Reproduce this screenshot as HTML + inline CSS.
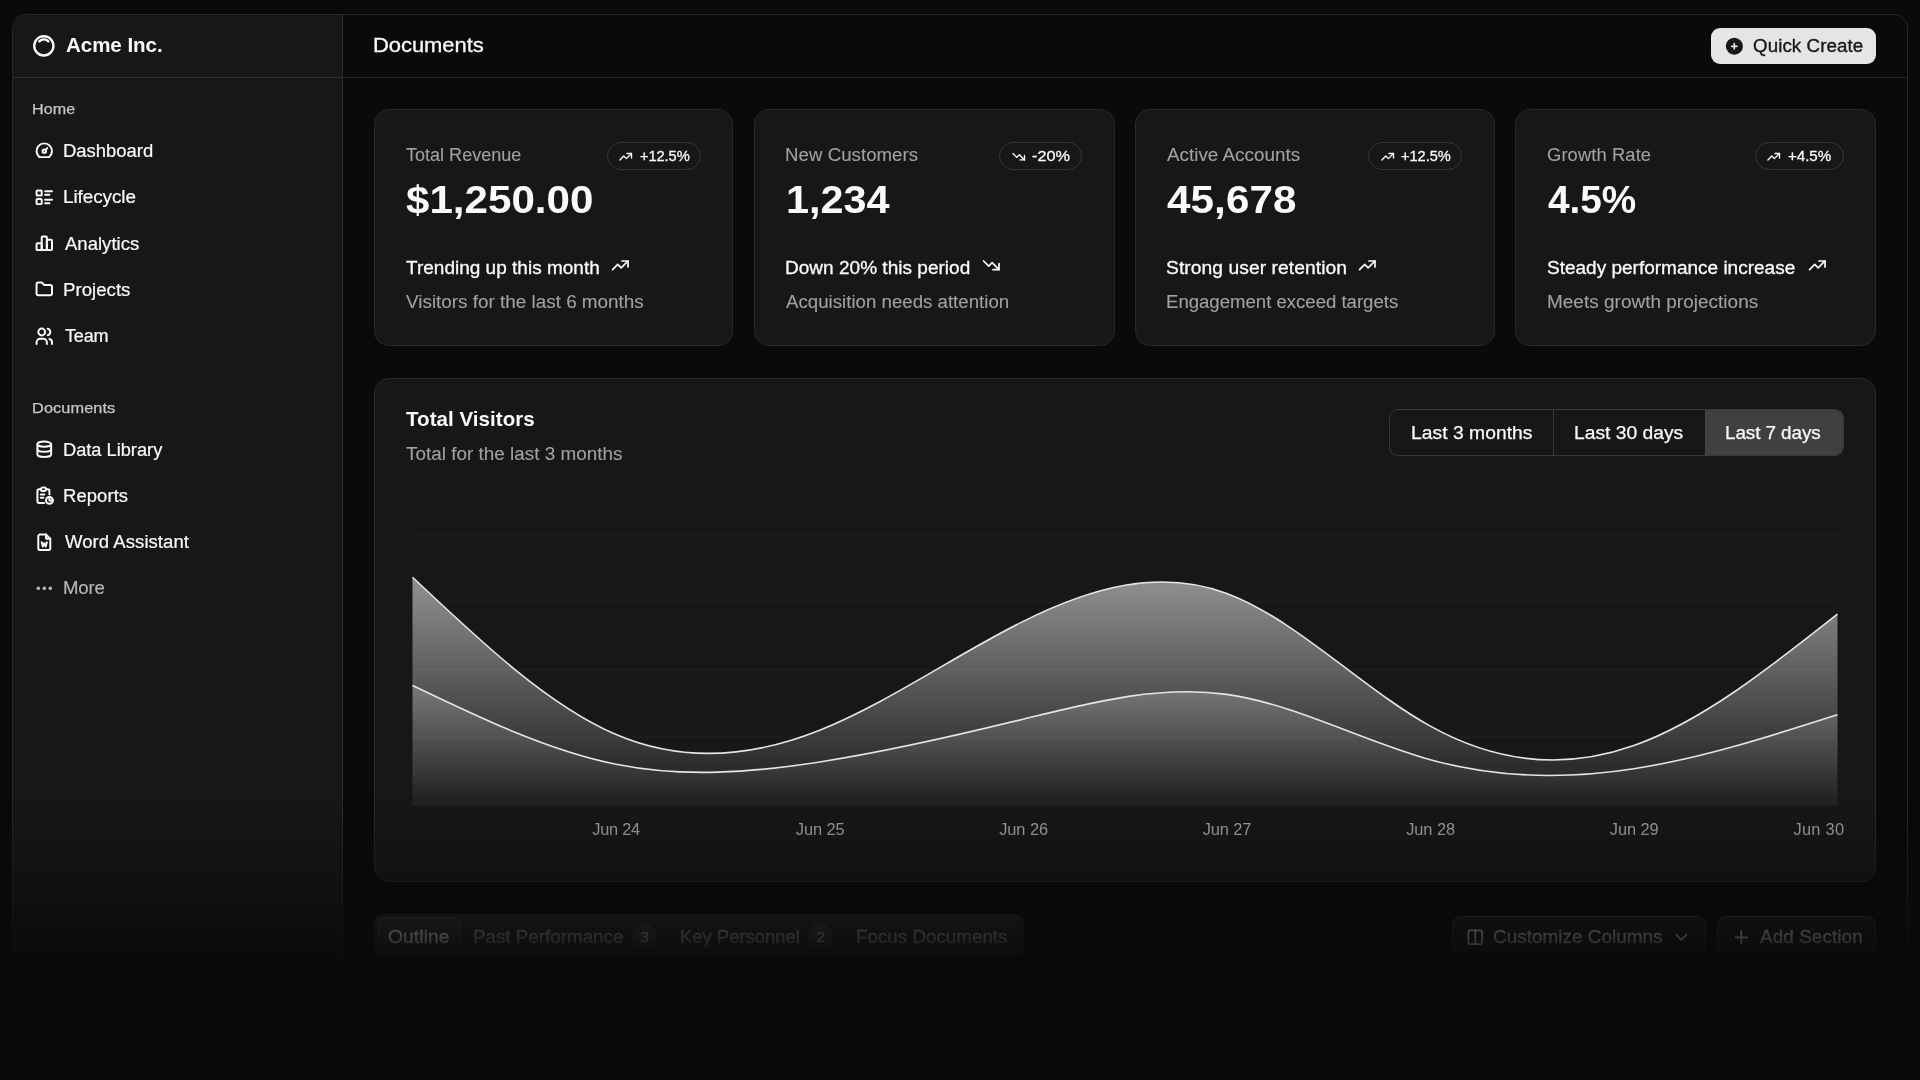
<!DOCTYPE html>
<html lang="en"><head><meta charset="utf-8"><title>Acme Inc. - Documents</title>
<style>
html,body{margin:0;padding:0}
body{width:1920px;height:1080px;overflow:hidden;background:#0a0a0a;position:relative;font-family:"Liberation Sans", sans-serif;-webkit-font-smoothing:antialiased}
.t{position:absolute;white-space:nowrap;line-height:1;display:block;transform-origin:0 0}
.ic{position:absolute;display:block;overflow:visible}
.b{position:absolute;box-sizing:border-box}
.card{position:absolute;box-sizing:border-box;background:#171717;border:1.29px solid #292929;border-radius:15px}
.badge{position:absolute;box-sizing:border-box;border:1px solid #363636;border-radius:14px}
</style></head><body>

<div class="b" style="left:12px;top:14px;width:1896px;height:1000px;border:1px solid #272727;border-radius:14px;background:#0a0a0a"></div>
<div class="b" style="left:13px;top:15px;width:329.8px;height:999px;background:#171717;border-right:1.29px solid #2c2c2c;border-top-left-radius:13px"></div>
<div class="b" style="left:13px;top:76.9px;width:328.6px;height:1.29px;background:#2e2e2e"></div>
<div class="b" style="left:342.8px;top:76.9px;width:1564.2px;height:1.29px;background:#252525"></div>
<svg id="i_logo" class="ic" style="left:30.85px;top:33.15px" width="25.70" height="25.70" viewBox="0 0 24 24" fill="none" stroke="#fafafa" stroke-width="2.2" stroke-linecap="round" stroke-linejoin="round"><path d="M5.636 5.636a9 9 0 1 0 12.728 12.728a9 9 0 0 0 -12.728 -12.728z"/><path d="M16.243 7.757a6 6 0 0 0 -8.486 0"/></svg>
<svg id="i_nav0" class="ic" style="left:33.72px;top:140.31px" width="20.57" height="20.57" viewBox="0 0 24 24" fill="none" stroke="#fafafa" stroke-width="2.3" stroke-linecap="round" stroke-linejoin="round"><path d="M12 13m-2 0a2 2 0 1 0 4 0a2 2 0 1 0 -4 0"/><path d="M13.45 11.55l2.05 -2.05"/><path d="M6.4 20a9 9 0 1 1 11.2 0z"/></svg>
<svg id="i_nav1" class="ic" style="left:33.72px;top:186.61px" width="20.57" height="20.57" viewBox="0 0 24 24" fill="none" stroke="#fafafa" stroke-width="2.3" stroke-linecap="round" stroke-linejoin="round"><path d="M13 5h8"/><path d="M13 9h5"/><path d="M13 15h8"/><path d="M13 19h5"/><path d="M3 4m0 1a1 1 0 0 1 1 -1h4a1 1 0 0 1 1 1v4a1 1 0 0 1 -1 1h-4a1 1 0 0 1 -1 -1z"/><path d="M3 14m0 1a1 1 0 0 1 1 -1h4a1 1 0 0 1 1 1v4a1 1 0 0 1 -1 1h-4a1 1 0 0 1 -1 -1z"/></svg>
<svg id="i_nav2" class="ic" style="left:33.72px;top:232.91px" width="20.57" height="20.57" viewBox="0 0 24 24" fill="none" stroke="#fafafa" stroke-width="2.3" stroke-linecap="round" stroke-linejoin="round"><path d="M3 13a1 1 0 0 1 1 -1h4a1 1 0 0 1 1 1v6a1 1 0 0 1 -1 1h-4a1 1 0 0 1 -1 -1z"/><path d="M15 9a1 1 0 0 1 1 -1h4a1 1 0 0 1 1 1v10a1 1 0 0 1 -1 1h-4a1 1 0 0 1 -1 -1z"/><path d="M9 5a1 1 0 0 1 1 -1h4a1 1 0 0 1 1 1v14a1 1 0 0 1 -1 1h-4a1 1 0 0 1 -1 -1z"/><path d="M4 20h14"/></svg>
<svg id="i_nav3" class="ic" style="left:33.72px;top:279.21px" width="20.57" height="20.57" viewBox="0 0 24 24" fill="none" stroke="#fafafa" stroke-width="2.3" stroke-linecap="round" stroke-linejoin="round"><path d="M5 4h4l3 3h7a2 2 0 0 1 2 2v8a2 2 0 0 1 -2 2h-14a2 2 0 0 1 -2 -2v-11a2 2 0 0 1 2 -2"/></svg>
<svg id="i_nav4" class="ic" style="left:33.72px;top:325.51px" width="20.57" height="20.57" viewBox="0 0 24 24" fill="none" stroke="#fafafa" stroke-width="2.3" stroke-linecap="round" stroke-linejoin="round"><path d="M9 7m-4 0a4 4 0 1 0 8 0a4 4 0 1 0 -8 0"/><path d="M3 21v-2a4 4 0 0 1 4 -4h4a4 4 0 0 1 4 4v2"/><path d="M16 3.13a4 4 0 0 1 0 7.75"/><path d="M21 21v-2a4 4 0 0 0 -3 -3.85"/></svg>
<svg id="i_doc0" class="ic" style="left:33.72px;top:439.01px" width="20.57" height="20.57" viewBox="0 0 24 24" fill="none" stroke="#fafafa" stroke-width="2.3" stroke-linecap="round" stroke-linejoin="round"><path d="M12 6m-8 0a8 3 0 1 0 16 0a8 3 0 1 0 -16 0"/><path d="M4 6v6a8 3 0 0 0 16 0v-6"/><path d="M4 12v6a8 3 0 0 0 16 0v-6"/></svg>
<svg id="i_doc1" class="ic" style="left:33.72px;top:485.31px" width="20.57" height="20.57" viewBox="0 0 24 24" fill="none" stroke="#fafafa" stroke-width="2.3" stroke-linecap="round" stroke-linejoin="round"><path d="M8 5h-2a2 2 0 0 0 -2 2v12a2 2 0 0 0 2 2h5.697"/><path d="M18 14v4h4"/><path d="M18 11v-4a2 2 0 0 0 -2 -2h-2"/><path d="M8 3m0 2a2 2 0 0 1 2 -2h2a2 2 0 0 1 2 2v0a2 2 0 0 1 -2 2h-2a2 2 0 0 1 -2 -2z"/><path d="M18 18m-4 0a4 4 0 1 0 8 0a4 4 0 1 0 -8 0"/><path d="M8 11h4"/><path d="M8 15h3"/></svg>
<svg id="i_doc2" class="ic" style="left:33.72px;top:531.62px" width="20.57" height="20.57" viewBox="0 0 24 24" fill="none" stroke="#fafafa" stroke-width="2.3" stroke-linecap="round" stroke-linejoin="round"><path d="M14 3v4a1 1 0 0 0 1 1h4"/><path d="M17 21h-10a2 2 0 0 1 -2 -2v-14a2 2 0 0 1 2 -2h7l5 5v11a2 2 0 0 1 -2 2z"/><path d="M9 12l1.333 5l1.667 -4l1.667 4l1.333 -5"/></svg>
<svg id="i_doc3" class="ic" style="left:33.72px;top:577.92px" width="20.57" height="20.57" viewBox="0 0 24 24" fill="none" stroke="#b4b4b4" stroke-width="2.3" stroke-linecap="round" stroke-linejoin="round"><path d="M5 12m-1 0a1 1 0 1 0 2 0a1 1 0 1 0 -2 0"/><path d="M12 12m-1 0a1 1 0 1 0 2 0a1 1 0 1 0 -2 0"/><path d="M19 12m-1 0a1 1 0 1 0 2 0a1 1 0 1 0 -2 0"/></svg>
<div class="b" style="left:1711.2px;top:28px;width:165.3px;height:36px;background:#e5e5e5;border-radius:9px"></div>
<svg class="ic" id="i_qc" style="left:1724.31px;top:35.72px" width="20.57" height="20.57" viewBox="0 0 24 24"><path fill="#171717" fill-rule="evenodd" d="M4.929 4.929a10 10 0 1 1 14.141 14.141a10 10 0 0 1 -14.14 -14.14zm8.071 4.071a1 1 0 1 0 -2 0v2h-2a1 1 0 1 0 0 2h2v2a1 1 0 1 0 2 0v-2h2a1 1 0 1 0 0 -2h-2v-2z"/></svg>
<div class="card" style="left:373.60px;top:109.2px;width:359.45px;height:237px"></div>
<div class="badge" style="left:607.00px;top:141.5px;width:93.80px;height:28.2px"></div>
<svg id="i_cb0" class="ic" style="left:618.30px;top:148.70px" width="15.43" height="15.43" viewBox="0 0 24 24" fill="none" stroke="#fafafa" stroke-width="2.1" stroke-linecap="round" stroke-linejoin="round"><path d="M3 17l6 -6l4 4l8 -8"/><path d="M14 7l7 0l0 7"/></svg>
<svg id="i_cf0" class="ic" style="left:609.60px;top:254.90px" width="20.57" height="20.57" viewBox="0 0 24 24" fill="none" stroke="#fafafa" stroke-width="2" stroke-linecap="round" stroke-linejoin="round"><path d="M3 17l6 -6l4 4l8 -8"/><path d="M14 7l7 0l0 7"/></svg>
<div class="card" style="left:753.75px;top:109.2px;width:361.10px;height:237px"></div>
<div class="badge" style="left:998.75px;top:141.5px;width:83.00px;height:28.2px"></div>
<svg id="i_cb1" class="ic" style="left:1010.50px;top:148.70px" width="15.43" height="15.43" viewBox="0 0 24 24" fill="none" stroke="#fafafa" stroke-width="2.1" stroke-linecap="round" stroke-linejoin="round"><path d="M3 7l6 6l4 -4l8 8"/><path d="M21 10l0 7l-7 0"/></svg>
<svg id="i_cf1" class="ic" style="left:980.60px;top:254.90px" width="20.57" height="20.57" viewBox="0 0 24 24" fill="none" stroke="#fafafa" stroke-width="2" stroke-linecap="round" stroke-linejoin="round"><path d="M3 7l6 6l4 -4l8 8"/><path d="M21 10l0 7l-7 0"/></svg>
<div class="card" style="left:1134.86px;top:109.2px;width:360.14px;height:237px"></div>
<div class="badge" style="left:1368.25px;top:141.5px;width:93.75px;height:28.2px"></div>
<svg id="i_cb2" class="ic" style="left:1380.00px;top:148.70px" width="15.43" height="15.43" viewBox="0 0 24 24" fill="none" stroke="#fafafa" stroke-width="2.1" stroke-linecap="round" stroke-linejoin="round"><path d="M3 17l6 -6l4 4l8 -8"/><path d="M14 7l7 0l0 7"/></svg>
<svg id="i_cf2" class="ic" style="left:1357.20px;top:254.90px" width="20.57" height="20.57" viewBox="0 0 24 24" fill="none" stroke="#fafafa" stroke-width="2" stroke-linecap="round" stroke-linejoin="round"><path d="M3 17l6 -6l4 4l8 -8"/><path d="M14 7l7 0l0 7"/></svg>
<div class="card" style="left:1515.00px;top:109.2px;width:361.00px;height:237px"></div>
<div class="badge" style="left:1755.00px;top:141.5px;width:88.75px;height:28.2px"></div>
<svg id="i_cb3" class="ic" style="left:1766.40px;top:148.70px" width="15.43" height="15.43" viewBox="0 0 24 24" fill="none" stroke="#fafafa" stroke-width="2.1" stroke-linecap="round" stroke-linejoin="round"><path d="M3 17l6 -6l4 4l8 -8"/><path d="M14 7l7 0l0 7"/></svg>
<svg id="i_cf3" class="ic" style="left:1807.00px;top:254.90px" width="20.57" height="20.57" viewBox="0 0 24 24" fill="none" stroke="#fafafa" stroke-width="2" stroke-linecap="round" stroke-linejoin="round"><path d="M3 17l6 -6l4 4l8 -8"/><path d="M14 7l7 0l0 7"/></svg>
<div class="card" style="left:373.6px;top:377.6px;width:1502.4px;height:504.2px"></div>
<div class="b" style="left:1389px;top:409px;width:455.2px;height:47px;border:1px solid #383838;border-radius:9px;overflow:hidden"><div class="b" style="left:163.2px;top:0;width:1px;height:45px;background:#383838"></div><div class="b" style="left:315px;top:0;width:139.2px;height:45px;background:#404040;border-left:1px solid #454545"></div></div>
<svg class="ic" style="left:0;top:0" width="1920" height="1080" viewBox="0 0 1920 1080"><defs><linearGradient id="gd" x1="0" y1="0" x2="0" y2="1"><stop offset="5%" stop-color="#e5e5e5" stop-opacity="1"/><stop offset="95%" stop-color="#e5e5e5" stop-opacity="0.18"/></linearGradient><linearGradient id="gm" x1="0" y1="0" x2="0" y2="1"><stop offset="5%" stop-color="#e5e5e5" stop-opacity="0.8"/><stop offset="95%" stop-color="#e5e5e5" stop-opacity="0.1"/></linearGradient></defs><line x1="412.5" x2="1837.5" y1="534.40" y2="534.40" stroke="#ffffff" stroke-opacity="0.04" stroke-width="1.2"/><line x1="412.5" x2="1837.5" y1="602.00" y2="602.00" stroke="#ffffff" stroke-opacity="0.04" stroke-width="1.2"/><line x1="412.5" x2="1837.5" y1="669.60" y2="669.60" stroke="#ffffff" stroke-opacity="0.04" stroke-width="1.2"/><line x1="412.5" x2="1837.5" y1="737.20" y2="737.20" stroke="#ffffff" stroke-opacity="0.04" stroke-width="1.2"/><line x1="412.5" x2="1837.5" y1="804.80" y2="804.80" stroke="#ffffff" stroke-opacity="0.04" stroke-width="1.2"/><path d="M412.50,685.37C480.36,717.99,548.21,750.62,616.07,764.24C683.93,777.86,751.79,772.49,819.64,761.99C887.50,751.48,955.36,735.85,1023.21,719.17C1091.07,702.50,1158.93,684.78,1226.79,694.39C1294.64,703.99,1362.50,740.91,1430.36,759.73C1498.21,778.55,1566.07,779.27,1633.93,768.75C1701.79,758.22,1769.64,736.44,1837.50,714.67L1837.50,804.80 L412.50,804.80 Z" fill="url(#gm)" fill-opacity="0.57" stroke="none"/><path d="M412.50,685.37C480.36,717.99,548.21,750.62,616.07,764.24C683.93,777.86,751.79,772.49,819.64,761.99C887.50,751.48,955.36,735.85,1023.21,719.17C1091.07,702.50,1158.93,684.78,1226.79,694.39C1294.64,703.99,1362.50,740.91,1430.36,759.73C1498.21,778.55,1566.07,779.27,1633.93,768.75C1701.79,758.22,1769.64,736.44,1837.50,714.67" fill="none" stroke="#e5e5e5" stroke-width="1.6"/><path d="M412.50,577.21C480.36,641.36,548.21,705.51,616.07,734.50C683.93,763.48,751.79,757.31,819.64,730.21C887.50,703.12,955.36,655.10,1023.21,621.38C1091.07,587.66,1158.93,568.25,1226.79,593.44C1294.64,618.63,1362.50,688.43,1430.36,726.16C1498.21,763.89,1566.07,769.55,1633.93,745.54C1701.79,721.53,1769.64,667.85,1837.50,614.17L1837.50,714.67C1769.64,736.44,1701.79,758.22,1633.93,768.75C1566.07,779.27,1498.21,778.55,1430.36,759.73C1362.50,740.91,1294.64,703.99,1226.79,694.39C1158.93,684.78,1091.07,702.50,1023.21,719.17C955.36,735.85,887.50,751.48,819.64,761.99C751.79,772.49,683.93,777.86,616.07,764.24C548.21,750.62,480.36,717.99,412.50,685.37Z" fill="url(#gd)" fill-opacity="0.57" stroke="none"/><path d="M412.50,577.21C480.36,641.36,548.21,705.51,616.07,734.50C683.93,763.48,751.79,757.31,819.64,730.21C887.50,703.12,955.36,655.10,1023.21,621.38C1091.07,587.66,1158.93,568.25,1226.79,593.44C1294.64,618.63,1362.50,688.43,1430.36,726.16C1498.21,763.89,1566.07,769.55,1633.93,745.54C1701.79,721.53,1769.64,667.85,1837.50,614.17" fill="none" stroke="#e5e5e5" stroke-width="1.6"/></svg>
<div class="b" style="left:374px;top:914px;width:649.6px;height:44px;background:#262626;border-radius:10px"></div>
<div class="b" style="left:377.7px;top:917.2px;width:83.1px;height:37.5px;background:#303030;border:1px solid #454545;border-radius:8px"></div>
<div class="b" style="left:632.2px;top:924.2px;width:24.6px;height:24.6px;background:#3a3a3a;border-radius:50%"></div>
<div class="b" style="left:808.2px;top:924.2px;width:24.6px;height:24.6px;background:#3a3a3a;border-radius:50%"></div>
<div class="b" style="left:1451.5px;top:916px;width:254.5px;height:40px;background:#1c1c1c;border:1px solid #383838;border-radius:9px"></div>
<div class="b" style="left:1717px;top:916px;width:159px;height:40px;background:#1c1c1c;border:1px solid #383838;border-radius:9px"></div>
<svg  class="ic" style="left:1464.91px;top:926.51px" width="20.57" height="20.57" viewBox="0 0 24 24" fill="none" stroke="#fafafa" stroke-width="2" stroke-linecap="round" stroke-linejoin="round"><path d="M4 4m0 2a2 2 0 0 1 2 -2h12a2 2 0 0 1 2 2v12a2 2 0 0 1 -2 2h-12a2 2 0 0 1 -2 -2z"/><path d="M12 4l0 16"/></svg>
<svg  class="ic" style="left:1671.31px;top:926.51px" width="20.57" height="20.57" viewBox="0 0 24 24" fill="none" stroke="#fafafa" stroke-width="2" stroke-linecap="round" stroke-linejoin="round"><path d="M6 9l6 6l6 -6"/></svg>
<svg  class="ic" style="left:1730.91px;top:926.72px" width="20.57" height="20.57" viewBox="0 0 24 24" fill="none" stroke="#fafafa" stroke-width="2" stroke-linecap="round" stroke-linejoin="round"><path d="M12 5l0 14"/><path d="M5 12l14 0"/></svg>
<div id="txt" style="position:absolute;left:0;top:0;width:1920px;height:1080px;will-change:transform">
<span id="acme" class="t" style="left:66.28px;top:35.09px;font-size:20.57px;font-weight:700;color:#fafafa;letter-spacing:-0.051px;transform:scaleX(0.9989);">Acme Inc.</span>
<span id="home" class="t" style="left:32.20px;top:101.44px;font-size:15.43px;font-weight:400;color:#c6c6c6;letter-spacing:0.080px;transform:scaleX(1.0437);-webkit-text-stroke:0.25px #c6c6c6;">Home</span>
<span id="nav0" class="t" style="left:63.26px;top:141.96px;font-size:18.00px;font-weight:400;color:#fafafa;letter-spacing:-0.006px;transform:scaleX(1.0256);-webkit-text-stroke:0.20px #fafafa;">Dashboard</span>
<span id="nav1" class="t" style="left:63.26px;top:188.26px;font-size:18.00px;font-weight:400;color:#fafafa;letter-spacing:-0.055px;transform:scaleX(1.0485);-webkit-text-stroke:0.20px #fafafa;">Lifecycle</span>
<span id="nav2" class="t" style="left:64.86px;top:234.56px;font-size:18.00px;font-weight:400;color:#fafafa;letter-spacing:-0.003px;transform:scaleX(1.0306);-webkit-text-stroke:0.20px #fafafa;">Analytics</span>
<span id="nav3" class="t" style="left:63.26px;top:280.86px;font-size:18.00px;font-weight:400;color:#fafafa;letter-spacing:-0.003px;transform:scaleX(1.0375);-webkit-text-stroke:0.20px #fafafa;">Projects</span>
<span id="nav4" class="t" style="left:64.86px;top:327.16px;font-size:18.00px;font-weight:400;color:#fafafa;letter-spacing:-0.168px;transform:scaleX(1.0023);-webkit-text-stroke:0.20px #fafafa;">Team</span>
<span id="docs" class="t" style="left:32.34px;top:400.24px;font-size:15.43px;font-weight:400;color:#c6c6c6;letter-spacing:0.060px;transform:scaleX(1.0610);-webkit-text-stroke:0.25px #c6c6c6;">Documents</span>
<span id="doc0" class="t" style="left:63.26px;top:440.56px;font-size:18.00px;font-weight:400;color:#fafafa;letter-spacing:-0.000px;transform:scaleX(1.0124);-webkit-text-stroke:0.20px #fafafa;">Data Library</span>
<span id="doc1" class="t" style="left:63.26px;top:486.86px;font-size:18.00px;font-weight:400;color:#fafafa;letter-spacing:0.081px;transform:scaleX(1.0242);-webkit-text-stroke:0.20px #fafafa;">Reports</span>
<span id="doc2" class="t" style="left:64.86px;top:533.16px;font-size:18.00px;font-weight:400;color:#fafafa;letter-spacing:0.040px;transform:scaleX(1.0308);-webkit-text-stroke:0.20px #fafafa;">Word Assistant</span>
<span id="doc3" class="t" style="left:63.26px;top:579.46px;font-size:18.00px;font-weight:400;color:#b4b4b4;letter-spacing:-0.160px;transform:scaleX(1.0333);-webkit-text-stroke:0.20px #b4b4b4;">More</span>
<span id="hdr" class="t" style="left:372.70px;top:35.09px;font-size:20.57px;font-weight:400;color:#fafafa;letter-spacing:-0.060px;transform:scaleX(1.0700);-webkit-text-stroke:0.30px #fafafa;">Documents</span>
<span id="qc" class="t" style="left:1752.78px;top:37.26px;font-size:18.00px;font-weight:400;color:#171717;letter-spacing:0.081px;transform:scaleX(1.0400);-webkit-text-stroke:0.35px #171717;">Quick Create</span>
<span id="ct0" class="t" style="left:405.64px;top:145.56px;font-size:18.00px;font-weight:400;color:#a1a1a1;letter-spacing:0.003px;transform:scaleX(1.0018);-webkit-text-stroke:0.10px #a1a1a1;">Total Revenue</span>
<span id="cb0" class="t" style="left:639.86px;top:147.84px;font-size:15.43px;font-weight:400;color:#fafafa;letter-spacing:-0.105px;transform:scaleX(0.9519);-webkit-text-stroke:0.30px #fafafa;">+12.5%</span>
<span id="cv0" class="t" style="left:405.98px;top:180.45px;font-size:39.40px;font-weight:700;color:#fafafa;letter-spacing:0.000px;transform:scaleX(1.0694);">$1,250.00</span>
<span id="cf0" class="t" style="left:405.64px;top:259.46px;font-size:18.00px;font-weight:400;color:#fafafa;letter-spacing:0.017px;transform:scaleX(1.0541);-webkit-text-stroke:0.30px #fafafa;">Trending up this month</span>
<span id="cg0" class="t" style="left:405.64px;top:292.76px;font-size:18.00px;font-weight:400;color:#a1a1a1;letter-spacing:-0.016px;transform:scaleX(1.0509);-webkit-text-stroke:0.10px #a1a1a1;">Visitors for the last 6 months</span>
<span id="ct1" class="t" style="left:785.45px;top:145.56px;font-size:18.00px;font-weight:400;color:#a1a1a1;letter-spacing:0.060px;transform:scaleX(1.0335);-webkit-text-stroke:0.10px #a1a1a1;">New Customers</span>
<span id="cb1" class="t" style="left:1032.00px;top:147.84px;font-size:15.43px;font-weight:400;color:#fafafa;letter-spacing:0.000px;transform:scaleX(1.0556);-webkit-text-stroke:0.30px #fafafa;">-20%</span>
<span id="cv1" class="t" style="left:786.40px;top:180.45px;font-size:39.40px;font-weight:700;color:#fafafa;letter-spacing:0.000px;transform:scaleX(1.0515);">1,234</span>
<span id="cf1" class="t" style="left:785.45px;top:259.46px;font-size:18.00px;font-weight:400;color:#fafafa;letter-spacing:0.016px;transform:scaleX(1.0560);-webkit-text-stroke:0.30px #fafafa;">Down 20% this period</span>
<span id="cg1" class="t" style="left:786.25px;top:292.76px;font-size:18.00px;font-weight:400;color:#a1a1a1;letter-spacing:0.019px;transform:scaleX(1.0349);-webkit-text-stroke:0.10px #a1a1a1;">Acquisition needs attention</span>
<span id="ct2" class="t" style="left:1167.00px;top:145.56px;font-size:18.00px;font-weight:400;color:#a1a1a1;letter-spacing:0.000px;transform:scaleX(1.0472);-webkit-text-stroke:0.10px #a1a1a1;">Active Accounts</span>
<span id="cb2" class="t" style="left:1401.25px;top:147.84px;font-size:15.43px;font-weight:400;color:#fafafa;letter-spacing:-0.049px;transform:scaleX(0.9471);-webkit-text-stroke:0.30px #fafafa;">+12.5%</span>
<span id="cv2" class="t" style="left:1167.10px;top:180.45px;font-size:39.40px;font-weight:700;color:#fafafa;letter-spacing:0.094px;transform:scaleX(1.0700);">45,678</span>
<span id="cf2" class="t" style="left:1166.20px;top:259.46px;font-size:18.00px;font-weight:400;color:#fafafa;letter-spacing:0.055px;transform:scaleX(1.0700);-webkit-text-stroke:0.30px #fafafa;">Strong user retention</span>
<span id="cg2" class="t" style="left:1166.20px;top:292.76px;font-size:18.00px;font-weight:400;color:#a1a1a1;letter-spacing:-0.010px;transform:scaleX(1.0324);-webkit-text-stroke:0.10px #a1a1a1;">Engagement exceed targets</span>
<span id="ct3" class="t" style="left:1547.20px;top:145.56px;font-size:18.00px;font-weight:400;color:#a1a1a1;letter-spacing:0.098px;transform:scaleX(1.0200);-webkit-text-stroke:0.10px #a1a1a1;">Growth Rate</span>
<span id="cb3" class="t" style="left:1788.00px;top:147.84px;font-size:15.43px;font-weight:400;color:#fafafa;letter-spacing:-0.060px;transform:scaleX(0.9830);-webkit-text-stroke:0.30px #fafafa;">+4.5%</span>
<span id="cv3" class="t" style="left:1548.00px;top:180.45px;font-size:39.40px;font-weight:700;color:#fafafa;letter-spacing:0.000px;transform:scaleX(0.9831);">4.5%</span>
<span id="cf3" class="t" style="left:1547.20px;top:259.46px;font-size:18.00px;font-weight:400;color:#fafafa;letter-spacing:0.000px;transform:scaleX(1.0556);-webkit-text-stroke:0.30px #fafafa;">Steady performance increase</span>
<span id="cg3" class="t" style="left:1547.20px;top:292.76px;font-size:18.00px;font-weight:400;color:#a1a1a1;letter-spacing:0.021px;transform:scaleX(1.0528);-webkit-text-stroke:0.10px #a1a1a1;">Meets growth projections</span>
<span id="tv" class="t" style="left:405.64px;top:408.89px;font-size:20.57px;font-weight:700;color:#fafafa;letter-spacing:0.034px;transform:scaleX(0.9992);">Total Visitors</span>
<span id="tvs" class="t" style="left:405.64px;top:444.56px;font-size:18.00px;font-weight:400;color:#a1a1a1;letter-spacing:0.014px;transform:scaleX(1.0481);-webkit-text-stroke:0.10px #a1a1a1;">Total for the last 3 months</span>
<span id="tg0" class="t" style="left:1410.56px;top:424.36px;font-size:18.00px;font-weight:400;color:#fafafa;letter-spacing:0.033px;transform:scaleX(1.0700);-webkit-text-stroke:0.25px #fafafa;">Last 3 months</span>
<span id="tg1" class="t" style="left:1574.20px;top:424.36px;font-size:18.00px;font-weight:400;color:#fafafa;letter-spacing:0.000px;transform:scaleX(1.0700);-webkit-text-stroke:0.25px #fafafa;">Last 30 days</span>
<span id="tg2" class="t" style="left:1725.12px;top:424.36px;font-size:18.00px;font-weight:400;color:#fafafa;letter-spacing:-0.095px;transform:scaleX(1.0511);-webkit-text-stroke:0.25px #fafafa;">Last 7 days</span>
<span id="ax0" class="t" style="left:592.34px;top:821.12px;font-size:16.40px;font-weight:400;color:#a1a1a1;letter-spacing:-0.280px;transform:scaleX(1.0000);">Jun 24</span>
<span id="ax1" class="t" style="left:795.78px;top:821.12px;font-size:16.40px;font-weight:400;color:#a1a1a1;letter-spacing:-0.080px;transform:scaleX(1.0000);">Jun 25</span>
<span id="ax2" class="t" style="left:999.22px;top:821.12px;font-size:16.40px;font-weight:400;color:#a1a1a1;letter-spacing:-0.080px;transform:scaleX(1.0000);">Jun 26</span>
<span id="ax3" class="t" style="left:1202.66px;top:821.12px;font-size:16.40px;font-weight:400;color:#a1a1a1;letter-spacing:-0.080px;transform:scaleX(1.0000);">Jun 27</span>
<span id="ax4" class="t" style="left:1406.22px;top:821.12px;font-size:16.40px;font-weight:400;color:#a1a1a1;letter-spacing:-0.080px;transform:scaleX(1.0000);">Jun 28</span>
<span id="ax5" class="t" style="left:1609.78px;top:821.12px;font-size:16.40px;font-weight:400;color:#a1a1a1;letter-spacing:-0.080px;transform:scaleX(1.0000);">Jun 29</span>
<span id="ax6" class="t" style="left:1793.55px;top:821.12px;font-size:16.40px;font-weight:400;color:#a1a1a1;letter-spacing:0.250px;transform:scaleX(1.0000);">Jun 30</span>
<span id="tb0" class="t" style="left:388.42px;top:928.06px;font-size:18.00px;font-weight:400;color:#fafafa;letter-spacing:0.083px;transform:scaleX(1.0700);-webkit-text-stroke:0.35px #fafafa;">Outline</span>
<span id="tb1" class="t" style="left:473.34px;top:928.06px;font-size:18.00px;font-weight:400;color:#a1a1a1;letter-spacing:0.003px;transform:scaleX(1.0434);-webkit-text-stroke:0.35px #a1a1a1;">Past Performance</span>
<span id="tb2" class="t" style="left:680.20px;top:928.06px;font-size:18.00px;font-weight:400;color:#a1a1a1;letter-spacing:-0.045px;transform:scaleX(1.0287);-webkit-text-stroke:0.35px #a1a1a1;">Key Personnel</span>
<span id="tb3" class="t" style="left:856.20px;top:928.06px;font-size:18.00px;font-weight:400;color:#a1a1a1;letter-spacing:-0.003px;transform:scaleX(1.0444);-webkit-text-stroke:0.35px #a1a1a1;">Focus Documents</span>
<span id="tn0" class="t" style="left:640.28px;top:929.24px;font-size:15.43px;font-weight:400;color:#c8c8c8;letter-spacing:0.000px;transform:scaleX(1.0000);-webkit-text-stroke:0.20px #c8c8c8;">3</span>
<span id="tn1" class="t" style="left:816.28px;top:929.24px;font-size:15.43px;font-weight:400;color:#c8c8c8;letter-spacing:0.000px;transform:scaleX(1.0000);-webkit-text-stroke:0.20px #c8c8c8;">2</span>
<span id="bt0" class="t" style="left:1493.34px;top:927.96px;font-size:18.00px;font-weight:400;color:#dadada;letter-spacing:0.000px;transform:scaleX(1.0525);-webkit-text-stroke:0.30px #dadada;">Customize Columns</span>
<span id="bt1" class="t" style="left:1759.72px;top:927.96px;font-size:18.00px;font-weight:400;color:#dadada;letter-spacing:0.095px;transform:scaleX(1.0474);-webkit-text-stroke:0.30px #dadada;">Add Section</span>
</div>
<div class="b" style="left:0;top:796px;width:1920px;height:171px;background:linear-gradient(to bottom,rgba(10,10,10,0.000) 0%,rgba(10,10,10,0.056) 10%,rgba(10,10,10,0.134) 20%,rgba(10,10,10,0.222) 30%,rgba(10,10,10,0.318) 40%,rgba(10,10,10,0.420) 50%,rgba(10,10,10,0.528) 60%,rgba(10,10,10,0.640) 70%,rgba(10,10,10,0.757) 80%,rgba(10,10,10,0.877) 90%,rgba(10,10,10,1.000) 100%)"></div>
<div class="b" style="left:0;top:967px;width:1920px;height:113px;background:#0a0a0a"></div>
</body></html>
